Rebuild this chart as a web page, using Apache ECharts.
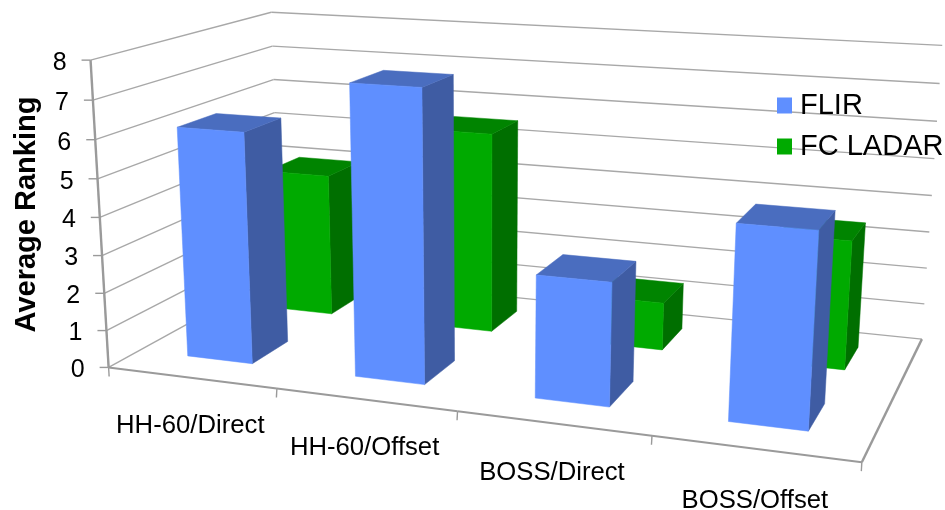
<!DOCTYPE html>
<html><head><meta charset="utf-8">
<style>html,body{margin:0;padding:0;background:#fff}#c{width:945px;height:510px}</style>
<script src="https://cdn.jsdelivr.net/npm/echarts@6/dist/echarts.min.js"></script>
</head><body><div id="c"></div>
<script>
const categories = ['HH-60/Direct','HH-60/Offset','BOSS/Direct','BOSS/Offset'];
const flirValues = [6.13, 7.55, 3.15, 4.85];
const ladarValues = [4.0, 5.52, 1.3, 3.43];
const yTicks = [0,1,2,3,4,5,6,7,8];

// Camera: world (category, value, depth) -> screen, fitted from the plot-box corners.
const anchors = [
  [[0,0,0],[109,365]], [[4,0,0],[862,464]], [[4,0,1],[922,337]], [[0,0,1],[279,276]],
  [[0,8,0],[90,61]],   [[0,8,1],[272,11]],  [[4,8,1],[942,46]]
];
function fitCamera(pts){
  const rows=[],rhs=[];
  pts.forEach(([[x,y,z],[u,v]])=>{
    rows.push([x,y,z,1,0,0,0,0,-u*x,-u*y,-u*z]);rhs.push(u);
    rows.push([0,0,0,0,x,y,z,1,-v*x,-v*y,-v*z]);rhs.push(v);
  });
  const n=11,A=[];
  for(let i=0;i<n;i++){A.push(new Array(n+1).fill(0));
    for(let j=0;j<n;j++)rows.forEach(r=>A[i][j]+=r[i]*r[j]);
    rows.forEach((r,k)=>A[i][n]+=r[i]*rhs[k]);}
  for(let i=0;i<n;i++){let p=i;for(let k=i+1;k<n;k++)if(Math.abs(A[k][i])>Math.abs(A[p][i]))p=k;
    [A[i],A[p]]=[A[p],A[i]];
    for(let k=0;k<n;k++)if(k!==i){const f=A[k][i]/A[i][i];for(let j=i;j<=n;j++)A[k][j]-=f*A[i][j];}}
  return A.map((r,i)=>r[n]/r[i]);
}
const P=fitCamera(anchors);
function proj(x,y,z){const w=P[8]*x+P[9]*y+P[10]*z+1;
  return [(P[0]*x+P[1]*y+P[2]*z+P[3])/w,(P[4]*x+P[5]*y+P[6]*z+P[7])/w];}

const barX=[0.297,0.69];
const rows={FLIR:[0.16,0.37],LADAR:[0.655,0.865]};
const FONT='"Liberation Sans",Arial,sans-serif';

function poly(pts,fill){return {type:'polygon',shape:{points:pts},style:{fill:fill,stroke:fill,lineWidth:0.5}};}
function bar(row,colors){
  return function(params,api){
    const i=api.value(0),v=api.value(1);
    const x0=i+barX[0],x1=i+barX[1],z0=row[0],z1=row[1];
    return {type:'group',children:[
      poly([proj(x1,0,z0),proj(x1,0,z1),proj(x1,v,z1),proj(x1,v,z0)],colors.side),
      poly([proj(x0,v,z0),proj(x1,v,z0),proj(x1,v,z1),proj(x0,v,z1)],colors.top),
      poly([proj(x0,0,z0),proj(x1,0,z0),proj(x1,v,z0),proj(x0,v,z0)],colors.front)
    ]};
  };
}
function seg(a,b,color,w){return {type:'line',shape:{x1:a[0],y1:a[1],x2:b[0],y2:b[1]},style:{stroke:color,lineWidth:w}};}

const wallItem=function(params,api){
  const t=api.value(0),ch=[];
  const grid='#A8A8A8',axis='#9A9A9A';
  ch.push(seg(proj(0,t,0),proj(0,t,1),grid,1.4));
  ch.push(seg(proj(0,t,1),proj(4,t,1),grid,1.4));
  const p=proj(0,t,0);
  ch.push(seg([p[0]-9,p[1]],p,axis,1.4));
  ch.push({type:'text',style:{text:String(t),x:p[0]-24,y:p[1]+3,align:'right',verticalAlign:'middle',
    font:'25px '+FONT,fill:'#000'}});
  return {type:'group',children:ch};
};
const frameItem=function(params,api){
  const i=api.value(0),ch=[];
  const axis='#9A9A9A';
  ch.push(seg(proj(i,0,0),proj(i+1,0,0),axis,2));
  const a=proj(i+1,0,0);
  ch.push(seg(a,[a[0]-0.5,a[1]+9],axis,1.4));
  if(i===0){
    const o=proj(0,0,0);
    ch.push(seg(o,[o[0]+0.5,o[1]+9],axis,1.4));
    ch.push(seg(proj(0,0,0),proj(0,8,0),axis,2.4));
    ch.push(seg(proj(4,0,0),proj(4,0,1),axis,2.4));
  }
  return {type:'group',children:ch};
};
const labelOffset=[[-1,48],[-1,48],[-1,50],[0,52]];
const catItem=function(params,api){
  const i=api.value(0);
  const a=proj(i+0.5,0,0);
  return {type:'text',style:{text:categories[i],x:a[0]+labelOffset[i][0],y:a[1]+labelOffset[i][1],
    align:'center',verticalAlign:'middle',font:'25.7px '+FONT,fill:'#000'}};
};

const chart=echarts.init(document.getElementById('c'),null,{renderer:'canvas'});
chart.setOption({
  animation:false,backgroundColor:'#fff',
  legend:{orient:'vertical',left:772,top:86,itemWidth:15,itemHeight:16,itemGap:12,
    selectedMode:false,icon:'rect',data:['FLIR','FC LADAR'],
    textStyle:{fontFamily:FONT,fontSize:29,color:'#000',padding:[0,0,0,3]}},
  graphic:[{type:'text',rotation:Math.PI/2,x:27,y:214.5,
    style:{text:'Average Ranking',font:'bold 29px '+FONT,fill:'#000',align:'center',verticalAlign:'middle'}}],
  series:[
    {type:'custom',name:'walls',coordinateSystem:'none',z:1,silent:true,data:yTicks.map(t=>[t]),renderItem:wallItem},
    {type:'custom',name:'frame',coordinateSystem:'none',z:1,silent:true,data:categories.map((c,i)=>[i]),renderItem:frameItem},
    {type:'custom',name:'labels',coordinateSystem:'none',z:1,silent:true,data:categories.map((c,i)=>[i]),renderItem:catItem},
    {type:'custom',name:'FLIR',coordinateSystem:'none',z:3,itemStyle:{color:'#5F8FFF'},
      data:flirValues.map((v,i)=>[i,v]),renderItem:bar(rows.FLIR,{front:'#5F8FFF',top:'#4A6DBF',side:'#3F5CA3'})},
    {type:'custom',name:'FC LADAR',coordinateSystem:'none',z:2,itemStyle:{color:'#00AA00'},
      data:ladarValues.map((v,i)=>[i,v]),renderItem:bar(rows.LADAR,{front:'#00AA00',top:'#008400',side:'#006F00'})}
  ]
});
</script></body></html>
